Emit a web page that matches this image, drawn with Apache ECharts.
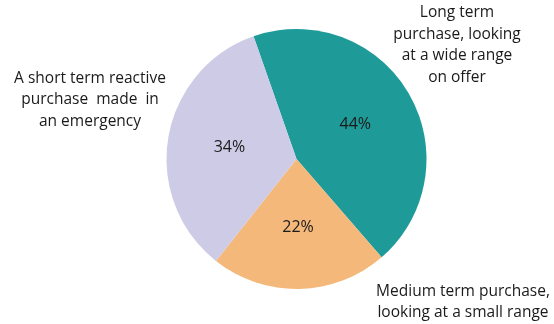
<!DOCTYPE html>
<html>
<head>
<meta charset="utf-8">
<script src="https://cdn.jsdelivr.net/npm/echarts@6/dist/echarts.min.js"></script>
<style>html,body{margin:0;padding:0;background:#fff}#c{width:554px;height:324px}</style>
</head>
<body>
<div id="c"></div>
<script>
const categories = [
  "Long term\npurchase, looking\nat a wide range\non offer",
  "Medium term purchase,\nlooking at a small range",
  "A short term reactive\npurchase  made  in\nan emergency"
];
const values = [44, 22, 34];
const colors = ["#1e9b99", "#f4b87a", "#cecbe6"];
const labelSpots = [
  {x: 457, y: 45, align: "center"},
  {x: 463, y: 302, align: "center"},
  {x: 90, y: 100, align: "center"}
];

const chart = echarts.init(document.getElementById('c'));
const font = "'Open Sans', sans-serif";
chart.setOption({
  animation: false,
  series: [{
    type: 'pie',
    center: [296.5, 159],
    radius: [0, 130],
    startAngle: 109.3,
    clockwise: true,
    data: values.map((v, i) => ({value: v, name: categories[i], itemStyle: {color: colors[i]}})),
    itemStyle: {borderWidth: 0},
    label: {
      position: 'inside',
      formatter: '{c}%',
      color: '#1a1a1a',
      fontSize: 16,
      fontFamily: font
    },
    labelLine: {show: false},
    emphasis: {disabled: true}
  }],
  graphic: categories.map((t, i) => ({
    type: 'text',
    x: labelSpots[i].x,
    y: labelSpots[i].y,
    style: {
      text: t,
      align: labelSpots[i].align,
      verticalAlign: 'middle',
      fill: '#1a1a1a',
      fontSize: 15.5,
      lineHeight: 21.5,
      fontFamily: font
    }
  }))
});
</script>
</body>
</html>
